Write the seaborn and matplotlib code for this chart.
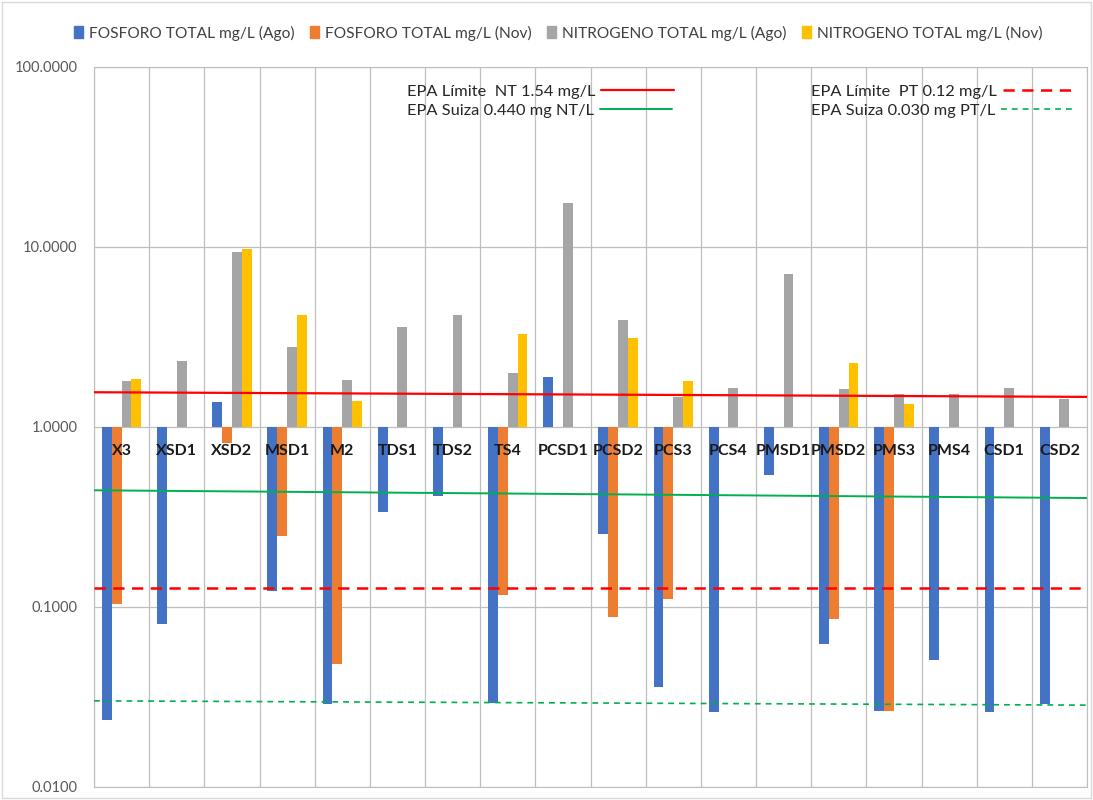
import numpy as np
import pandas as pd
import matplotlib.pyplot as plt
import matplotlib.patches as mpatches
from matplotlib.lines import Line2D
import seaborn as sns

# Data (mg/L), bars start at 1.0 on the log axis
sites = ["X3", "XSD1", "XSD2", "MSD1", "M2", "TDS1", "TDS2", "TS4", "PCSD1",
         "PCSD2", "PCS3", "PCS4", "PMSD1", "PMSD2", "PMS3", "PMS4", "CSD1", "CSD2"]
nan = np.nan
pt_ago = [0.0236, 0.080, 1.37, 0.122, 0.0288, 0.339, 0.416, 0.0294, 1.90,
          0.254, 0.0358, 0.026, 0.543, 0.0621, 0.0265, 0.051, 0.026, 0.0289]
pt_nov = [0.104, nan, 0.81, 0.249, 0.0484, nan, nan, 0.117, nan,
          0.0883, 0.111, nan, nan, 0.0858, 0.0265, nan, nan, nan]
nt_ago = [1.80, 2.34, 9.4, 2.79, 1.82, 3.58, 4.19, 1.99, 17.6,
          3.95, 1.47, 1.65, 7.05, 1.63, 1.53, 1.53, 1.65, 1.43]
nt_nov = [1.84, nan, 9.7, 4.19, 1.39, nan, nan, 3.27, nan,
          3.11, 1.81, nan, nan, 2.27, 1.34, nan, nan, nan]

series_names = ["FOSFORO TOTAL mg/L (Ago)", "FOSFORO TOTAL mg/L (Nov)",
                "NITROGENO TOTAL mg/L (Ago)", "NITROGENO TOTAL mg/L (Nov)"]
series_colors = ["#4472C4", "#ED7D31", "#A5A5A5", "#FFC000"]

# reference lines (value at left edge, value at right edge)
nt_limit = [1.56, 1.47]
nt_suiza = [0.445, 0.403]
pt_limit = [0.127, 0.127]
pt_suiza = [0.0301, 0.0285]
ref_labels = ["EPA Límite  NT 1.54 mg/L", "EPA Suiza 0.440 mg NT/L",
              "EPA Límite  PT 0.12 mg/L", "EPA Suiza 0.030 mg PT/L"]

base = 1.0

rows = []
for name, vals in zip(series_names, [pt_ago, pt_nov, nt_ago, nt_nov]):
    for s, v in zip(sites, vals):
        rows.append({"site": s, "serie": name, "value": v})
df = pd.DataFrame(rows)
df["height"] = df["value"] - base

sns.set_style("white")
plt.rcParams["font.family"] = ["Lato", "DejaVu Sans"]

fig = plt.figure(figsize=(10.93, 8), dpi=100)
ax = fig.add_axes([94 / 1093, 13 / 800, (1087 - 94) / 1093, (787 - 67) / 800])

sns.barplot(data=df, x="site", y="height", hue="serie", order=sites,
            hue_order=series_names, palette=series_colors, width=0.71,
            errorbar=None, legend=False, bottom=base, ax=ax, zorder=2,
            linewidth=0, saturation=1)

ax.set_yscale("log")
ax.set_ylim(0.01, 100)
ax.set_xlim(-0.5, len(sites) - 0.5)

# reference lines across the plot area
xl = ax.get_xlim()
ax.plot(xl, nt_limit, color="#FF0000", lw=1.6, zorder=3)
ax.plot(xl, nt_suiza, color="#00B050", lw=1.4, zorder=3)
ax.plot(xl, pt_limit, color="#FF0000", lw=1.8, ls=(0, (4.5, 3)), zorder=3)
ax.plot(xl, pt_suiza, color="#00B050", lw=1.2, ls=(0, (3.5, 3)), zorder=3)

# grid
ax.set_yticks([0.01, 0.1, 1, 10, 100])
ax.set_yticklabels(["0.0100", "0.1000", "1.0000", "10.0000", "100.0000"])
ax.yaxis.set_minor_locator(plt.NullLocator())
ax.set_xticks(np.arange(-0.5, len(sites), 1.0))
ax.set_xticklabels([])
ax.grid(True, which="major", axis="both", color="#BFBFBF", lw=0.9, zorder=0)
ax.tick_params(axis="both", length=0, labelsize=10.5, labelcolor="#595959", pad=12)
for sp in ax.spines.values():
    sp.set_color("#BFBFBF")
ax.set_xlabel("")
ax.set_ylabel("")

# category labels just below the 1.0 line
for i, s in enumerate(sites):
    ax.annotate(s, xy=(i, base), xytext=(0, -17), textcoords="offset points",
                ha="center", va="center", fontsize=11.5, fontweight="bold",
                color="#1a1a1a", zorder=5)

# legends for reference lines (text first, left aligned)
leg_kw = dict(loc="upper left", frameon=False, markerfirst=False, handlelength=4.4,
              handletextpad=0.35, labelspacing=0.3, fontsize=11.8, borderpad=0,
              labelcolor="#262626")
h1 = [Line2D([], [], color="#FF0000", lw=1.6),
      Line2D([], [], color="#00B050", lw=1.4)]
h2 = [Line2D([], [], color="#FF0000", lw=1.8, ls=(0, (4.5, 3))),
      Line2D([], [], color="#00B050", lw=1.2, ls=(0, (3.5, 3)))]
leg1 = ax.legend(h1, ref_labels[:2], bbox_to_anchor=((399 - 94) / 993, 1 - 9 / 720), **leg_kw)
ax.add_artist(leg1)
leg2 = ax.legend(h2, ref_labels[2:], bbox_to_anchor=((803 - 94) / 993, 1 - 9 / 720), **leg_kw)
for lg in (leg1, leg2):
    for col in lg._legend_handle_box.get_children():
        col.align = "left"

# top series legend
handles = [mpatches.Patch(color=c, label=n) for c, n in zip(series_colors, series_names)]
fig.legend(handles=handles, loc="center", bbox_to_anchor=(0.511, 1 - 33 / 800), ncol=4,
           frameon=False, fontsize=11.2, handlelength=0.55, handleheight=0.75,
           handletextpad=0.4, columnspacing=1.0, labelcolor="#404040")

fig.patches.append(mpatches.Rectangle((0.002, 0.002), 0.996, 0.996, transform=fig.transFigure,
                                      fill=False, edgecolor="#D9D9D9", lw=1))

fig.savefig("out.png", dpi=100)
